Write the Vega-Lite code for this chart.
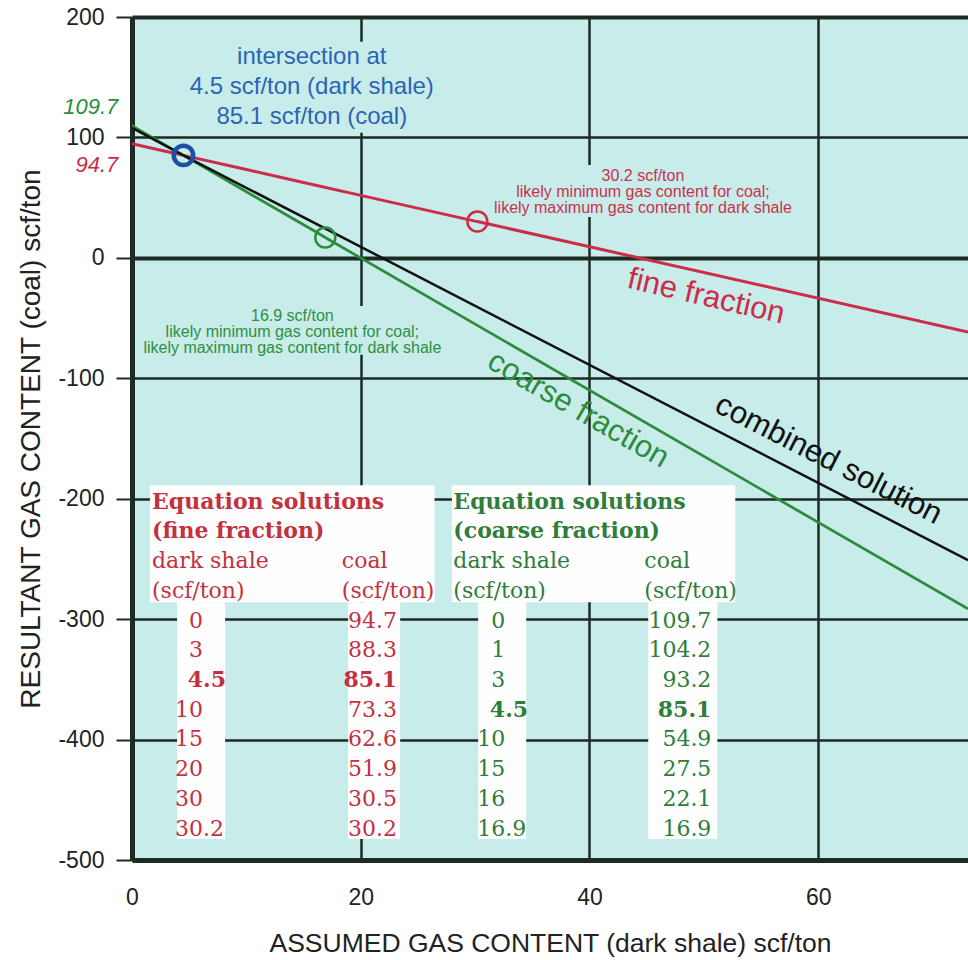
{
  "$schema": "https://vega.github.io/schema/vega-lite/v6.json",
  "width": 836,
  "height": 843,
  "autosize": {"type": "none"},
  "padding": {"left": 132, "top": 17, "right": 0, "bottom": 100},
  "background": "white",
  "config": {
    "view": {"fill": "#c8ecea", "stroke": null},
    "font": "Liberation Sans",
    "axis": {
      "domainColor": "#1d2b24", "domainWidth": 5,
      "gridColor": "#1d2b24", "gridOpacity": 1,
      "labelFont": "Liberation Sans", "labelFontSize": 23, "labelColor": "#222222",
      "titleFont": "Liberation Sans", "titleFontWeight": "normal", "titleColor": "#222222",
      "tickColor": "#1d2b24", "tickWidth": 2
    },
    "axisX": {"ticks": false, "tickSize": 0, "labelPadding": 26, "labelFlush": false, "titleFontSize": 26.5, "titlePadding": 21, "grid": true, "gridWidth": 2.5},
    "axisY": {"tickSize": 16, "labelPadding": 12, "titleFontSize": 28, "titlePadding": 12, "grid": true}
  },
  "datasets": {
    "lines": [
      {"series": "fine", "x": 0, "y": 94.7},
      {"series": "fine", "x": 3, "y": 88.3},
      {"series": "fine", "x": 4.5, "y": 85.1},
      {"series": "fine", "x": 10, "y": 73.3},
      {"series": "fine", "x": 15, "y": 62.6},
      {"series": "fine", "x": 20, "y": 51.9},
      {"series": "fine", "x": 30, "y": 30.5},
      {"series": "fine", "x": 30.2, "y": 30.2},
      {"series": "fine", "x": 73.1, "y": -61.5},
      {"series": "coarse", "x": 0, "y": 109.7},
      {"series": "coarse", "x": 1, "y": 104.2},
      {"series": "coarse", "x": 3, "y": 93.2},
      {"series": "coarse", "x": 4.5, "y": 85.1},
      {"series": "coarse", "x": 10, "y": 54.9},
      {"series": "coarse", "x": 15, "y": 27.5},
      {"series": "coarse", "x": 16, "y": 22.1},
      {"series": "coarse", "x": 16.9, "y": 16.9},
      {"series": "coarse", "x": 73.1, "y": -291.5},
      {"series": "combined", "x": 0, "y": 108},
      {"series": "combined", "x": 4.5, "y": 85.1},
      {"series": "combined", "x": 73.1, "y": -251}
    ],
    "points": [
      {"series": "intersection", "x": 4.5, "y": 85.1},
      {"series": "fine", "x": 30.2, "y": 30.2},
      {"series": "coarse", "x": 16.9, "y": 16.9}
    ],
    "fineTable": [
      {"row": 4, "shale": "0", "shaleInt": "0", "shaleFrac": "", "coal": "94.7", "bold": false},
      {"row": 5, "shale": "3", "shaleInt": "3", "shaleFrac": "", "coal": "88.3", "bold": false},
      {"row": 6, "shale": "4.5", "shaleInt": "4", "shaleFrac": ".5", "coal": "85.1", "bold": true},
      {"row": 7, "shale": "10", "shaleInt": "10", "shaleFrac": "", "coal": "73.3", "bold": false},
      {"row": 8, "shale": "15", "shaleInt": "15", "shaleFrac": "", "coal": "62.6", "bold": false},
      {"row": 9, "shale": "20", "shaleInt": "20", "shaleFrac": "", "coal": "51.9", "bold": false},
      {"row": 10, "shale": "30", "shaleInt": "30", "shaleFrac": "", "coal": "30.5", "bold": false},
      {"row": 11, "shale": "30.2", "shaleInt": "30", "shaleFrac": ".2", "coal": "30.2", "bold": false}
    ],
    "coarseTable": [
      {"row": 4, "shale": "0", "shaleInt": "0", "shaleFrac": "", "coal": "109.7", "bold": false},
      {"row": 5, "shale": "1", "shaleInt": "1", "shaleFrac": "", "coal": "104.2", "bold": false},
      {"row": 6, "shale": "3", "shaleInt": "3", "shaleFrac": "", "coal": "93.2", "bold": false},
      {"row": 7, "shale": "4.5", "shaleInt": "4", "shaleFrac": ".5", "coal": "85.1", "bold": true},
      {"row": 8, "shale": "10", "shaleInt": "10", "shaleFrac": "", "coal": "54.9", "bold": false},
      {"row": 9, "shale": "15", "shaleInt": "15", "shaleFrac": "", "coal": "27.5", "bold": false},
      {"row": 10, "shale": "16", "shaleInt": "16", "shaleFrac": "", "coal": "22.1", "bold": false},
      {"row": 11, "shale": "16.9", "shaleInt": "16", "shaleFrac": ".9", "coal": "16.9", "bold": false}
    ]
  },
  "resolve": {"scale": {"y": "independent"}},
  "layer": [
    {
      "layer": [
        {
          "data": {"values": [{}]},
          "mark": {"type": "rect", "color": "#c8ecea"},
          "encoding": {"x": {"datum": 5.07}, "x2": {"datum": 26.42}, "y": {"datum": 179.4}, "y2": {"datum": 103.8}}
        },
        {
          "data": {"values": [{}]},
          "mark": {"type": "rect", "color": "#c8ecea"},
          "encoding": {"x": {"datum": 31.3}, "x2": {"datum": 58.0}, "y": {"datum": 77.2}, "y2": {"datum": 34.0}}
        },
        {
          "data": {"values": [{}]},
          "mark": {"type": "rect", "color": "#c8ecea"},
          "encoding": {"x": {"datum": 1.14}, "x2": {"datum": 26.95}, "y": {"datum": -39.9}, "y2": {"datum": -80.5}}
        },
        {
          "data": {"name": "lines"},
          "mark": {"type": "line", "clip": true},
          "encoding": {
            "x": {"field": "x", "type": "quantitative", "scale": {"domain": [0, 73.1], "nice": false, "zero": false},
                  "axis": {"values": [0, 20, 40, 60], "title": "ASSUMED GAS CONTENT (dark shale) scf/ton"}},
            "y": {"field": "y", "type": "quantitative", "scale": {"domain": [-500, 200], "nice": false, "zero": false},
                  "axis": {"values": [-500, -400, -300, -200, -100, 0, 100, 200], "labelExpr": "'' + datum.value", "title": "RESULTANT GAS CONTENT (coal) scf/ton",
                           "gridWidth": {"condition": {"test": "datum.value === 0 || datum.value === 200", "value": 4}, "value": 2.5}}},
            "color": {"field": "series", "type": "nominal", "scale": {"domain": ["fine", "coarse", "combined", "intersection"], "range": ["#cc2c48", "#2d8c3c", "#111111", "#1d4fa3"]}, "legend": null},
            "strokeWidth": {"field": "series", "type": "nominal", "scale": {"domain": ["fine", "coarse", "combined"], "range": [3, 2.5, 3.5]}, "legend": null}
          }
        },
        {
          "data": {"name": "points"},
          "transform": [{"filter": "datum.series !== 'intersection'"}],
          "mark": {"type": "point", "filled": false, "size": 400, "strokeWidth": 2.5, "opacity": 1},
          "encoding": {
            "x": {"field": "x", "type": "quantitative"},
            "y": {"field": "y", "type": "quantitative"},
            "color": {"field": "series", "type": "nominal", "legend": null}
          }
        },
        {
          "data": {"name": "points"},
          "transform": [{"filter": "datum.series === 'intersection'"}],
          "mark": {"type": "point", "filled": false, "size": 380, "strokeWidth": 4.5, "opacity": 1},
          "encoding": {
            "x": {"field": "x", "type": "quantitative"},
            "y": {"field": "y", "type": "quantitative"},
            "color": {"field": "series", "type": "nominal", "legend": null}
          }
        },
        {
          "data": {"values": [{}]},
          "mark": {"type": "text", "align": "center", "baseline": "middle", "fontSize": 24, "lineHeight": 30, "color": "#2c64b4",
                   "text": ["intersection at", "4.5 scf/ton (dark shale)", "85.1 scf/ton (coal)"]},
          "encoding": {"x": {"datum": 15.72}, "y": {"datum": 167.2}}
        },
        {
          "data": {"values": [{}]},
          "mark": {"type": "text", "align": "center", "baseline": "middle", "fontSize": 16, "lineHeight": 16.3, "color": "#c8324d",
                   "text": ["30.2 scf/ton", "likely minimum gas content for coal;", "likely maximum gas content for dark shale"]},
          "encoding": {"x": {"datum": 44.68}, "y": {"datum": 68.3}}
        },
        {
          "data": {"values": [{}]},
          "mark": {"type": "text", "align": "center", "baseline": "middle", "fontSize": 16, "lineHeight": 16.3, "color": "#2f8f40",
                   "text": ["16.9 scf/ton", "likely minimum gas content for coal;", "likely maximum gas content for dark shale"]},
          "encoding": {"x": {"datum": 14.02}, "y": {"datum": -47.9}}
        },
        {
          "data": {"values": [{}]},
          "mark": {"type": "text", "align": "center", "baseline": "middle", "fontSize": 31, "angle": 13, "color": "#cc2c48", "text": "fine fraction"},
          "encoding": {"x": {"datum": 50.2}, "y": {"datum": -32.4}}
        },
        {
          "data": {"values": [{}]},
          "mark": {"type": "text", "align": "center", "baseline": "middle", "fontSize": 31, "angle": 30, "color": "#2d8c3c", "text": "coarse fraction"},
          "encoding": {"x": {"datum": 39.0}, "y": {"datum": -126.2}}
        },
        {
          "data": {"values": [{}]},
          "mark": {"type": "text", "align": "center", "baseline": "middle", "fontSize": 31, "angle": 27, "color": "#111111", "text": "combined solution"},
          "encoding": {"x": {"datum": 60.9}, "y": {"datum": -167.7}}
        },
        {
          "data": {"values": [{}]},
          "mark": {"type": "text", "align": "right", "baseline": "middle", "fontSize": 22, "fontStyle": "italic", "color": "#2d8c3c", "text": "109.7", "dy": -19},
          "encoding": {"x": {"datum": -1.2}, "y": {"datum": 109.7}}
        },
        {
          "data": {"values": [{}]},
          "mark": {"type": "text", "align": "right", "baseline": "middle", "fontSize": 22, "fontStyle": "italic", "color": "#cc2c48", "text": "94.7", "dy": 21},
          "encoding": {"x": {"datum": -1.2}, "y": {"datum": 94.7}}
        }
      ]
    },
    {
      "layer": [
        {
          "data": {"values": [{}]},
          "mark": {"type": "rect", "color": "#fdfefd"},
          "encoding": {"x": {"datum": 1.57}, "x2": {"datum": 26.45},
                       "y": {"datum": -0.56, "type": "quantitative", "scale": {"domain": [-16.32, 12.06], "reverse": true, "nice": false, "zero": false}, "axis": null},
                       "y2": {"datum": 3.38}}
        },
        {
          "data": {"values": [{}]},
          "mark": {"type": "rect", "color": "#fdfefd"},
          "encoding": {"x": {"datum": 3.94}, "x2": {"datum": 8.14},
                       "y": {"datum": 3.38, "type": "quantitative", "axis": null}, "y2": {"datum": 11.35}}
        },
        {
          "data": {"values": [{}]},
          "mark": {"type": "rect", "color": "#fdfefd"},
          "encoding": {"x": {"datum": 18.9}, "x2": {"datum": 23.45},
                       "y": {"datum": 3.38, "type": "quantitative", "axis": null}, "y2": {"datum": 11.35}}
        },
        {
          "data": {"values": [{}]},
          "mark": {"type": "rect", "color": "#fdfefd"},
          "encoding": {"x": {"datum": 27.97}, "x2": {"datum": 52.75},
                       "y": {"datum": -0.56, "type": "quantitative", "axis": null}, "y2": {"datum": 3.38}}
        },
        {
          "data": {"values": [{}]},
          "mark": {"type": "rect", "color": "#fdfefd"},
          "encoding": {"x": {"datum": 30.27}, "x2": {"datum": 34.47},
                       "y": {"datum": 3.38, "type": "quantitative", "axis": null}, "y2": {"datum": 11.35}}
        },
        {
          "data": {"values": [{}]},
          "mark": {"type": "rect", "color": "#fdfefd"},
          "encoding": {"x": {"datum": 45.14}, "x2": {"datum": 51.18},
                       "y": {"datum": 3.38, "type": "quantitative", "axis": null}, "y2": {"datum": 11.35}}
        },
        {
          "data": {"values": [{}]},
          "mark": {"type": "text", "align": "left", "baseline": "middle", "font": "DejaVu Serif", "fontSize": 22, "fontWeight": "bold", "lineHeight": 29.7, "color": "#c4303f",
                   "text": ["Equation solutions", "(fine fraction)"]},
          "encoding": {"x": {"datum": 1.75}, "y": {"datum": 0, "type": "quantitative", "axis": null}}
        },
        {
          "data": {"values": [{}]},
          "mark": {"type": "text", "align": "left", "baseline": "middle", "font": "DejaVu Serif", "fontSize": 22, "lineHeight": 29.7, "color": "#c4303f",
                   "text": ["dark shale", "(scf/ton)"]},
          "encoding": {"x": {"datum": 1.75}, "y": {"datum": 2, "type": "quantitative", "axis": null}}
        },
        {
          "data": {"values": [{}]},
          "mark": {"type": "text", "align": "left", "baseline": "middle", "font": "DejaVu Serif", "fontSize": 22, "lineHeight": 29.7, "color": "#c4303f",
                   "text": ["coal", "(scf/ton)"]},
          "encoding": {"x": {"datum": 18.35}, "y": {"datum": 2, "type": "quantitative", "axis": null}}
        },
        {
          "data": {"values": [{}]},
          "mark": {"type": "text", "align": "left", "baseline": "middle", "font": "DejaVu Serif", "fontSize": 22, "fontWeight": "bold", "lineHeight": 29.7, "color": "#2e7d3a",
                   "text": ["Equation solutions", "(coarse fraction)"]},
          "encoding": {"x": {"datum": 28.1}, "y": {"datum": 0, "type": "quantitative", "axis": null}}
        },
        {
          "data": {"values": [{}]},
          "mark": {"type": "text", "align": "left", "baseline": "middle", "font": "DejaVu Serif", "fontSize": 22, "lineHeight": 29.7, "color": "#2e7d3a",
                   "text": ["dark shale", "(scf/ton)"]},
          "encoding": {"x": {"datum": 28.1}, "y": {"datum": 2, "type": "quantitative", "axis": null}}
        },
        {
          "data": {"values": [{}]},
          "mark": {"type": "text", "align": "left", "baseline": "middle", "font": "DejaVu Serif", "fontSize": 22, "lineHeight": 29.7, "color": "#2e7d3a",
                   "text": ["coal", "(scf/ton)"]},
          "encoding": {"x": {"datum": 44.8}, "y": {"datum": 2, "type": "quantitative", "axis": null}}
        },
        {
          "data": {"name": "fineTable"},
          "mark": {"type": "text", "align": "right", "baseline": "middle", "font": "DejaVu Serif", "fontSize": 22, "color": "#c4303f", "fontWeight": {"expr": "datum.bold ? 'bold' : 'normal'"}},
          "encoding": {"x": {"datum": 6.21}, "y": {"field": "row", "type": "quantitative", "axis": null}, "text": {"field": "shaleInt"}}
        },
        {
          "data": {"name": "fineTable"},
          "mark": {"type": "text", "align": "left", "baseline": "middle", "font": "DejaVu Serif", "fontSize": 22, "color": "#c4303f", "fontWeight": {"expr": "datum.bold ? 'bold' : 'normal'"}},
          "encoding": {"x": {"datum": 6.21}, "y": {"field": "row", "type": "quantitative", "axis": null}, "text": {"field": "shaleFrac"}}
        },
        {
          "data": {"name": "fineTable"},
          "mark": {"type": "text", "align": "right", "baseline": "middle", "font": "DejaVu Serif", "fontSize": 22, "color": "#c4303f", "fontWeight": {"expr": "datum.bold ? 'bold' : 'normal'"}},
          "encoding": {"x": {"datum": 23.18}, "y": {"field": "row", "type": "quantitative", "axis": null}, "text": {"field": "coal"}}
        },
        {
          "data": {"name": "coarseTable"},
          "mark": {"type": "text", "align": "right", "baseline": "middle", "font": "DejaVu Serif", "fontSize": 22, "color": "#2e7d3a", "fontWeight": {"expr": "datum.bold ? 'bold' : 'normal'"}},
          "encoding": {"x": {"datum": 32.63}, "y": {"field": "row", "type": "quantitative", "axis": null}, "text": {"field": "shaleInt"}}
        },
        {
          "data": {"name": "coarseTable"},
          "mark": {"type": "text", "align": "left", "baseline": "middle", "font": "DejaVu Serif", "fontSize": 22, "color": "#2e7d3a", "fontWeight": {"expr": "datum.bold ? 'bold' : 'normal'"}},
          "encoding": {"x": {"datum": 32.63}, "y": {"field": "row", "type": "quantitative", "axis": null}, "text": {"field": "shaleFrac"}}
        },
        {
          "data": {"name": "coarseTable"},
          "mark": {"type": "text", "align": "right", "baseline": "middle", "font": "DejaVu Serif", "fontSize": 22, "color": "#2e7d3a", "fontWeight": {"expr": "datum.bold ? 'bold' : 'normal'"}},
          "encoding": {"x": {"datum": 50.66}, "y": {"field": "row", "type": "quantitative", "axis": null}, "text": {"field": "coal"}}
        }
      ]
    }
  ]
}
